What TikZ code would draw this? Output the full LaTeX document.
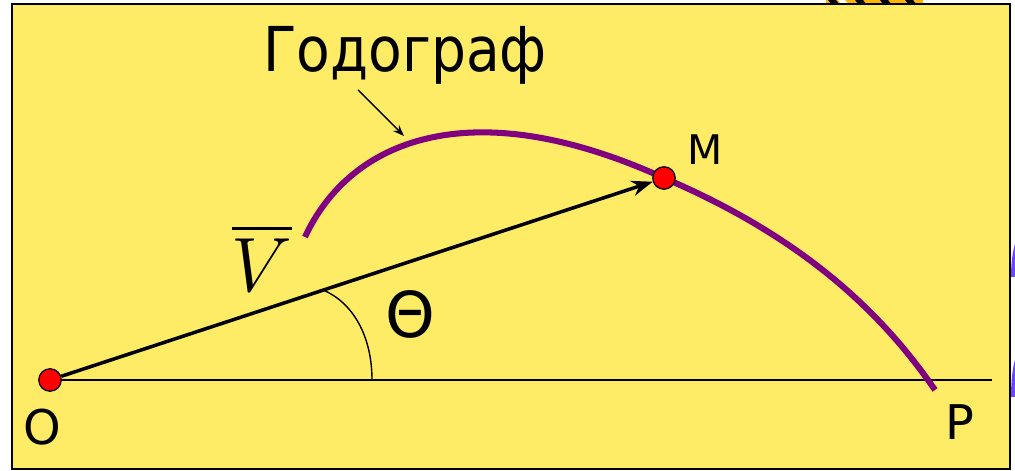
\documentclass[tikz,border=0pt]{standalone}
\usepackage{fontspec}
\usepackage{amsmath}
\usetikzlibrary{arrows.meta,positioning}
\newfontfamily\labelfont{DejaVu Sans}

\begin{document}
\begin{tikzpicture}[
  x=0.025cm, y=-0.025cm,
  sheet/.style={fill={rgb,255:red,255;green,236;blue,102},
    draw=black, line width=1.2pt},
  dot/.style={circle, minimum size=16pt, inner sep=0pt,
    fill={rgb,255:red,255;green,0;blue,0}, draw=black, line width=0.9pt},
  vec/.style={-{Stealth[length=15pt,width=11pt]}, line width=2.5pt},
  axis/.style={line width=1.4pt},
  hodo/.style={line width=4.3pt,
    color={rgb,255:red,128;green,0;blue,128}},
  ptr/.style={-{Stealth[length=8pt,width=6pt]}, line width=1pt},
  lbl/.style={font=\labelfont\fontsize{34}{40}\selectfont, inner sep=0pt},
]
  \useasboundingbox (0,0) rectangle (1015,471);

  %% ── Clipped pieces at the edges ─────────────────────────────
  \fill[fill={rgb,255:red,255;green,180;blue,0}] (826,0) rectangle (923,4);
  \foreach \s in {828,855,880,905}
    \fill[black] (\s,0) -- (\s+8,0) -- (\s+11,4) -- (\s+3,4) -- cycle;
  \fill[white] (838,0) -- (845,0) -- (848,4) -- (841,4) -- cycle;
  \fill[fill={rgb,255:red,110;green,70;blue,255}]
    (1011,277) .. controls (1011,262) and (1013,250) .. (1015,244) -- (1015,277) -- cycle;
  \fill[fill={rgb,255:red,110;green,70;blue,255}]
    (1011,397) .. controls (1011,380) and (1013,366) .. (1015,360) -- (1015,397) -- cycle;

  %% ── Sheet ───────────────────────────────────────────────────
  \draw[sheet] (12,4) rectangle (1010,469);

  %% ── Points ──────────────────────────────────────────────────
  \coordinate (o) at (50,380);
  \coordinate (m) at (664,178);
  \coordinate (axend) at (992,380);
  \coordinate (hstart) at (305,237);
  \coordinate (hend) at (935,390);

  %% ── Axis, angle and hodograph ───────────────────────────────
  \draw[axis] (o) -- (axend);
  \draw[line width=1pt] (323,290) .. controls (352,302) and (372,335) .. (372,380);
  \draw[hodo] (hstart) .. controls (350,140) and (470,90) .. (m)
    .. controls (800,236) and (880,310) .. (hend);

  %% ── Dots ────────────────────────────────────────────────────
  \node[dot] (O) at (o) {};
  \node[dot] (M) at (m) {};
  \draw[vec] (O) -- (M);

  %% ── Labels ──────────────────────────────────────────────────
  \node[lbl, font=\labelfont\fontsize{44}{50}\selectfont,
    anchor=base, xscale=0.89] (title) at (405,72) {Годограф};
  \coordinate (tip) at (404,136);
  \draw[ptr] (358,90) -- (tip);
  \node[lbl, font=\labelfont\fontsize{29}{34}\selectfont, anchor=base]
    (mlbl) at (705,165) {M};
  \node[lbl, anchor=base] (olbl) at (42,445) {O};
  \node[lbl, anchor=base] (plbl) at (960,440) {P};
  \node[lbl, font=\labelfont\fontsize{45}{50}\selectfont, anchor=base]
    (theta) at (410,338) {Θ};
  \node[inner sep=0pt, anchor=base, font=\Huge, scale=2.2]
    (vlbl) at (262,292) {$\overline{V}$};

\end{tikzpicture}
\end{document}
